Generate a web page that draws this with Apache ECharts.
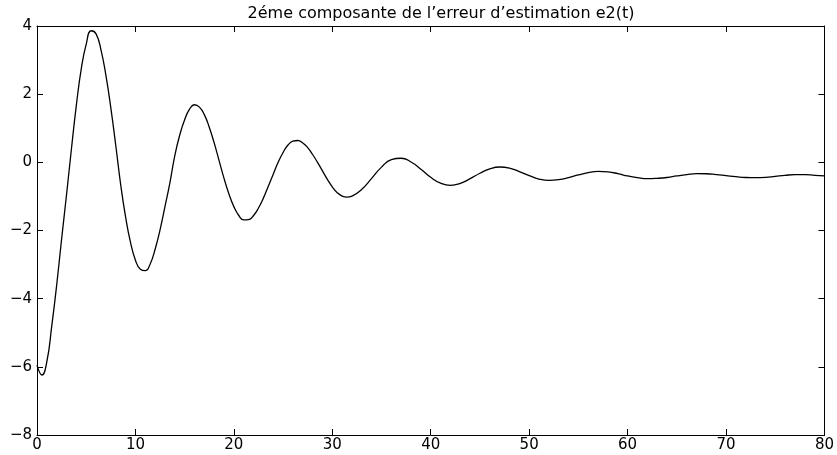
<!DOCTYPE html>
<html>
<head>
<meta charset="utf-8">
<script src="https://cdn.jsdelivr.net/npm/echarts@6/dist/echarts.min.js"></script>
<style>
html,body{margin:0;padding:0;background:#fff;}
#chart{width:837px;height:455px;}
</style>
</head>
<body>
<div id="chart"></div>
<script>
const titleText = '2éme composante de l’erreur d’estimation e2(t)';
const xTicks = [0, 10, 20, 30, 40, 50, 60, 70, 80];
const yTicks = [-8, -6, -4, -2, 0, 2, 4];

const tValues = [
  0, 0.5, 1, 1.5, 2, 2.5, 3, 3.5, 4, 4.5, 5, 5.5, 6, 6.5, 7, 7.5, 8, 8.5, 9, 9.5,
  10, 10.5, 11, 11.5, 12, 12.5, 13, 13.5, 14, 14.5, 15, 15.5, 16, 16.5, 17, 17.5, 18, 18.5, 19, 19.5,
  20, 20.5, 21, 21.5, 22, 22.5, 23, 23.5, 24, 24.5, 25, 25.5, 26, 26.5, 27, 27.5, 28, 28.5, 29, 29.5,
  30, 30.5, 31, 31.5, 32, 33, 34, 35, 36, 37, 38, 39, 40, 41, 42, 43, 44, 45, 46, 47, 48, 49,
  50, 51, 52, 53, 54, 55, 56, 57, 58, 59, 60, 61, 62, 63, 64, 65, 66, 67, 68, 69,
  70, 71, 72, 73, 74, 75, 76, 77, 78, 79, 80
];
const e2Values = [
  -5.95, -6.24, -5.85, -4.8, -3.6, -2.25, -0.95, 0.4, 1.68, 2.75, 3.47, 3.86, 3.77, 3.3, 2.55, 1.6, 0.5, -0.65, -1.6, -2.35,
  -2.87, -3.14, -3.18, -2.98, -2.55, -1.98, -1.3, -0.6, 0.2, 0.8, 1.25, 1.56, 1.69, 1.62, 1.4, 1.03, 0.57, 0.05, -0.47, -0.93,
  -1.3, -1.56, -1.69, -1.68, -1.56, -1.34, -1.05, -0.7, -0.35, 0.0, 0.29, 0.51, 0.62, 0.64, 0.57, 0.43, 0.23, 0.0, -0.25, -0.5,
  -0.72, -0.89, -0.99, -1.02, -0.99, -0.79, -0.47, -0.14, 0.08, 0.12, 0.01, -0.2, -0.44, -0.61, -0.675, -0.62, -0.48, -0.32, -0.19, -0.137, -0.17, -0.27,
  -0.39, -0.49, -0.53, -0.51, -0.45, -0.37, -0.3, -0.265, -0.28, -0.33, -0.4, -0.45, -0.48, -0.47, -0.445, -0.4, -0.36, -0.33, -0.335, -0.36,
  -0.39, -0.42, -0.445, -0.45, -0.44, -0.41, -0.38, -0.362, -0.362, -0.38, -0.4
];

const seriesData = tValues.map((t, i) => [t, e2Values[i]]);
const FONT = 'DejaVu Sans';
const fmt = v => String(v).replace('-', '\u2212');

const baseAxisLine = { show: true, onZero: false, lineStyle: { color: '#000', width: 1 } };
const baseTick = { show: true, inside: true, length: 6, lineStyle: { color: '#000', width: 1 } };

const chart = echarts.init(document.getElementById('chart'));
chart.setOption({
  backgroundColor: '#fff',
  animation: false,
  title: {
    text: titleText,
    left: 436, top: 1, textAlign: 'center',
    textStyle: { fontFamily: FONT, fontSize: 16, fontWeight: 'normal', color: '#000' }
  },
  grid: { left: 37, right: 12, top: 26, bottom: 20, containLabel: false },
  xAxis: [
    {
      type: 'value', min: xTicks[0], max: xTicks[xTicks.length - 1], interval: 10,
      axisLine: baseAxisLine, axisTick: baseTick, splitLine: { show: false },
      axisLabel: { fontFamily: FONT, fontSize: 15, color: '#000', margin: 3, formatter: fmt }
    },
    {
      type: 'value', position: 'top', min: xTicks[0], max: xTicks[xTicks.length - 1], interval: 10,
      axisLine: baseAxisLine, axisTick: baseTick, splitLine: { show: false }, axisLabel: { show: false }
    }
  ],
  yAxis: [
    {
      type: 'value', min: yTicks[0], max: yTicks[yTicks.length - 1], interval: 2,
      axisLine: baseAxisLine, axisTick: baseTick, splitLine: { show: false },
      axisLabel: { fontFamily: FONT, fontSize: 15, color: '#000', margin: 5, formatter: fmt }
    },
    {
      type: 'value', position: 'right', min: yTicks[0], max: yTicks[yTicks.length - 1], interval: 2,
      axisLine: baseAxisLine, axisTick: baseTick, splitLine: { show: false }, axisLabel: { show: false }
    }
  ],
  series: [{
    type: 'line',
    data: seriesData,
    xAxisIndex: 0, yAxisIndex: 0,
    showSymbol: false,
    smooth: 0.5,
    lineStyle: { color: '#000', width: 1.3 },
    silent: true
  }]
});
</script>
</body>
</html>
